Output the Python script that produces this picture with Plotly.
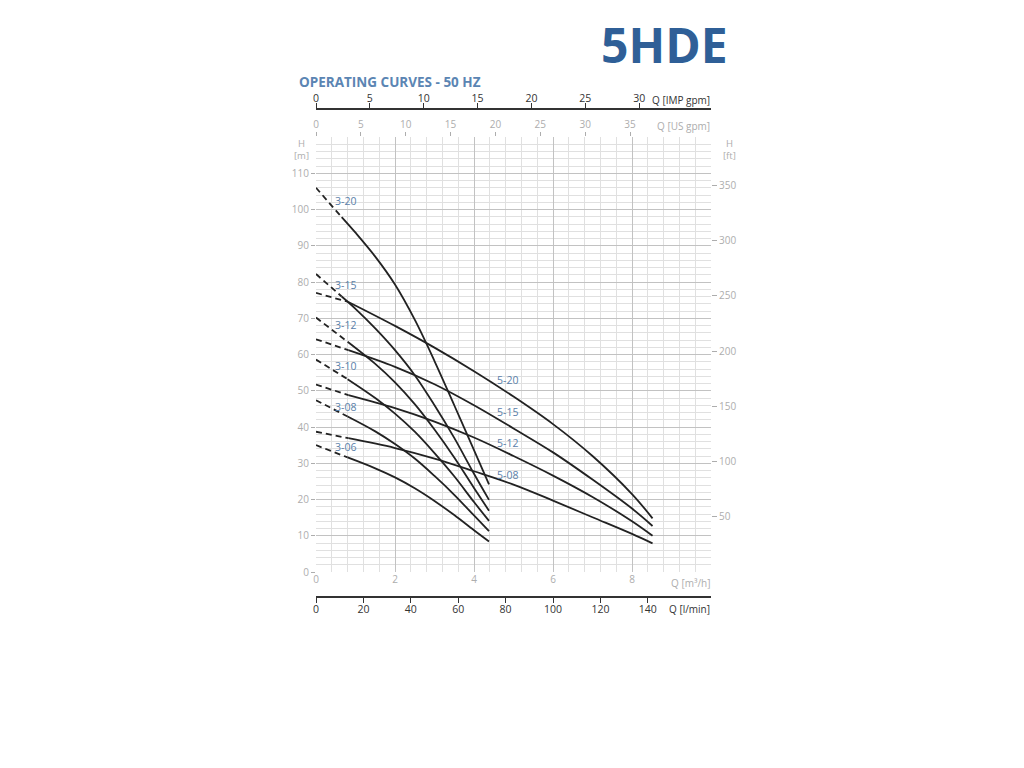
import plotly.graph_objects as go

# ---------------- data ----------------
# flow in m3/h, head in m
Q_SMALL_20 = [0.65, 1.0, 1.5, 2.0, 2.5, 3.0, 3.5, 4.0, 4.38]
Q_SMALL = [0.8, 1.5, 2.0, 2.5, 3.0, 3.5, 4.0, 4.38]
Q_LARGE = [0.82, 2.0, 3.0, 4.0, 5.0, 6.0, 7.0, 8.0, 8.52]

H_3_20 = [97.9, 93.6, 87.0, 79.3, 69.6, 58.2, 46.0, 33.6, 24.2]
H_3_15 = [76.0, 72.6, 67.2, 61.2, 54.3, 46.0, 37.0, 27.1, 19.9]
H_3_12 = [63.5, 57.4, 52.3, 46.3, 39.3, 31.6, 23.2, 16.9]
H_3_10 = [53.2, 48.0, 43.7, 38.7, 32.8, 26.4, 19.3, 14.1]
H_3_08 = [42.9, 38.8, 35.3, 31.3, 26.5, 21.3, 15.6, 11.3]
H_3_06 = [31.6, 28.6, 26.1, 23.1, 19.6, 15.7, 11.5, 8.4]

H_5_20 = [74.5, 67.9, 61.9, 55.4, 48.4, 40.8, 32.0, 21.5, 14.8]
H_5_15 = [61.2, 56.6, 51.8, 46.0, 39.6, 33.0, 25.5, 17.5, 12.7]
H_5_12 = [48.8, 45.2, 41.5, 37.1, 32.0, 26.6, 20.7, 14.0, 10.0]
H_5_08 = [36.9, 34.2, 31.3, 27.8, 24.1, 19.7, 15.1, 10.5, 7.9]

# shut-off head (Q = 0), dashed part
SHUTOFF = {"3-20": 106.0, "3-15": 82.2, "3-12": 70.2, "3-10": 58.6, "3-08": 47.4,
           "3-06": 35.0, "5-20": 77.0, "5-15": 64.2, "5-12": 51.7, "5-08": 38.7}

CURVE_NAMES = ["3-20", "3-15", "3-12", "3-10", "3-08", "3-06", "5-20", "5-15", "5-12", "5-08"]
CURVE_Q = [Q_SMALL_20, Q_SMALL_20, Q_SMALL, Q_SMALL, Q_SMALL, Q_SMALL,
           Q_LARGE, Q_LARGE, Q_LARGE, Q_LARGE]
CURVE_H = [H_3_20, H_3_15, H_3_12, H_3_10, H_3_08, H_3_06, H_5_20, H_5_15, H_5_12, H_5_08]

# label anchor points (Q m3/h, H m)
LABEL_Q = [0.44, 0.44, 0.44, 0.44, 0.44, 0.44, 4.53, 4.53, 4.53, 4.53]
LABEL_H = [102.3, 79.1, 68.1, 56.8, 45.6, 34.4, 52.9, 44.2, 35.5, 26.7]

M3H_TICKS = [0, 2, 4, 6, 8]
H_TICKS = list(range(0, 120, 10))
FT_TICKS = [50, 100, 150, 200, 250, 300, 350]
USGPM_TICKS = [0, 5, 10, 15, 20, 25, 30, 35]
IMPGPM_TICKS = [0, 5, 10, 15, 20, 25, 30]
LMIN_TICKS = [0, 20, 40, 60, 80, 100, 120, 140]

# unit conversions (m3/h per unit, ft per m)
USGPM = 0.227125
IMPGPM = 0.272765
LMIN = 0.06
FT = 3.28084
QMAX = 10.0
HMAX = 120.0

# ---------------- figure ----------------
GRAY = "#adadad"
DARK = "#222222"
BLUE = "#5a80a9"
FONT = "Open Sans"

# page body has an 8px offset; plot area target on screen: x 316..711, y 137..572
OFF = 8
L = 316 - OFF
T = 100 - OFF
PW = 395
PH = 500

fig = go.Figure()

for name, q, h in zip(CURVE_NAMES, CURVE_Q, CURVE_H):
    fig.add_trace(go.Scatter(x=[0, q[0]], y=[SHUTOFF[name], h[0]], mode="lines",
                             line=dict(color=DARK, width=1.8, dash="6px,4px"),
                             hoverinfo="skip", showlegend=False))
    fig.add_trace(go.Scatter(x=q, y=h, mode="lines", line_shape="spline",
                             line=dict(color=DARK, width=1.8), name=name, showlegend=False))

# anchor traces for secondary axes
for xa, ya in (("x2", "y"), ("x3", "y"), ("x4", "y"), ("x", "y2")):
    fig.add_trace(go.Scatter(x=[0], y=[0], xaxis=xa, yaxis=ya, mode="markers",
                             marker=dict(opacity=0), hoverinfo="skip", showlegend=False))

YDOM = [0.056, 0.926]
tickfont_gray = dict(family=FONT, size=10, color=GRAY)
tickfont_dark = dict(family=FONT, size=10.5, color="#333333")

fig.update_layout(
    width=1024, height=768,
    margin=dict(l=L, r=1024 - L - PW, t=T, b=768 - T - PH),
    paper_bgcolor="white", plot_bgcolor="white",
    xaxis=dict(range=[0, QMAX], tickvals=M3H_TICKS, tickfont=tickfont_gray,
               showgrid=True, gridcolor="#c2c2c2", gridwidth=1.3,
               minor=dict(dtick=0.4, tick0=0, showgrid=True, gridcolor="#e0e0e0", gridwidth=1),
               ticks="", zeroline=False, showline=False, anchor="y"),
    xaxis2=dict(range=[0, QMAX / USGPM], tickvals=USGPM_TICKS, tickfont=tickfont_gray,
                overlaying="x", side="top", anchor="y", showgrid=False,
                ticks="outside", ticklen=4, tickcolor=GRAY, showline=False, zeroline=False),
    xaxis3=dict(range=[0, QMAX / IMPGPM], tickvals=IMPGPM_TICKS, tickfont=tickfont_dark,
                overlaying="x", side="top", anchor="free", position=0.982, showgrid=False,
                ticks="outside", ticklen=5, tickcolor="#333333", tickwidth=1.2,
                ticklabelstandoff=-3,
                showline=True, linecolor="#333333", linewidth=1.6, zeroline=False),
    xaxis4=dict(range=[0, QMAX / LMIN], tickvals=LMIN_TICKS, tickfont=tickfont_dark,
                overlaying="x", side="bottom", anchor="free", position=0.006, showgrid=False,
                ticks="outside", ticklen=5, tickcolor="#333333", tickwidth=1.2,
                ticklabelstandoff=-2,
                showline=True, linecolor="#333333", linewidth=1.6, zeroline=False),
    yaxis=dict(range=[0, HMAX], domain=YDOM, tickvals=H_TICKS, tickfont=tickfont_gray,
               showgrid=True, gridcolor="#c2c2c2", gridwidth=1.3,
               minor=dict(dtick=2, tick0=0, showgrid=True, gridcolor="#e0e0e0", gridwidth=1),
               ticks="outside", ticklen=4, tickcolor=GRAY, zeroline=False, showline=False,
               anchor="x"),
    yaxis2=dict(range=[0, HMAX * FT], domain=YDOM, tickvals=FT_TICKS, tickfont=tickfont_gray,
                overlaying="y", side="right", anchor="x", showgrid=False,
                ticks="outside", ticklen=5, tickcolor=GRAY, zeroline=False, showline=False),
)

ann = []
for name, lq, lh in zip(CURVE_NAMES, LABEL_Q, LABEL_H):
    ann.append(dict(x=lq, y=lh, xref="x", yref="y", text=name, showarrow=False,
                    xanchor="left", yanchor="middle",
                    font=dict(family=FONT, size=10.5, color=BLUE)))


def px_to_paper(px, py):
    # screen pixel -> paper fraction
    return (px - 316) / float(PW), (T + OFF + PH - py) / float(PH)


def add_text(px, py, text, size, color, xanchor="center", bold=False):
    x, y = px_to_paper(px, py)
    ann.append(dict(x=x, y=y, xref="paper", yref="paper", text=text, showarrow=False,
                    xanchor=xanchor, yanchor="middle",
                    font=dict(family=FONT, size=size, color=color,
                              weight=700 if bold else 400)))


add_text(664, 45, "5HDE", 48, "#2f5f97", bold=True)
add_text(297, 82, "OPERATING CURVES - 50 HZ", 13.5, "#5b85b3", xanchor="left", bold=True)
add_text(301, 149, "H<br>[m]", 9.5, GRAY)
add_text(729, 149, "H<br>[ft]", 9.5, GRAY)
add_text(712, 126, "Q [US gpm]", 10, GRAY, xanchor="right")
add_text(712, 100, "Q [IMP gpm]", 10, "#333333", xanchor="right")
add_text(712, 583, "Q [m³/h]", 10, GRAY, xanchor="right")
add_text(712, 609, "Q [l/min]", 10, "#333333", xanchor="right")

fig.update_layout(annotations=ann)

fig.write_html("out.html")
